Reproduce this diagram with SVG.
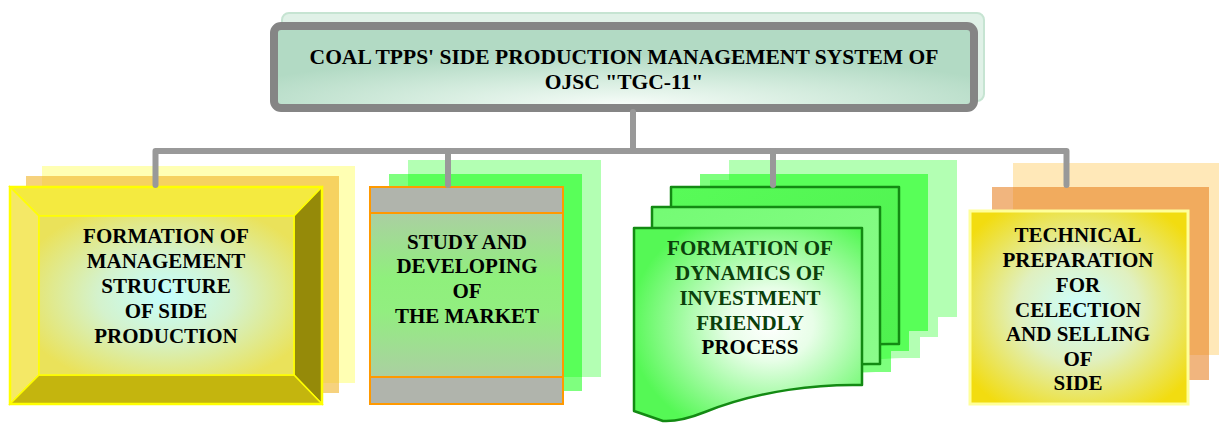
<svg xmlns="http://www.w3.org/2000/svg" xmlns:xlink="http://www.w3.org/1999/xlink" width="1219" height="423" viewBox="0 0 1219 423">
  <style>
    .lbl { font-family: "Liberation Serif", "Times New Roman", serif; font-weight: bold; font-size: 21px; text-anchor: middle; fill: #000; }
    .head { font-size: 21.5px; }
    .lbl-green { fill: #0b400b; }
    .wire { fill: none; stroke: #999999; stroke-width: 6; stroke-linecap: round; stroke-linejoin: round; }
    .bevel { stroke: #ffff00; stroke-width: 1.5; stroke-linejoin: miter; }
    .doc { stroke: #138a13; stroke-width: 2.5; stroke-linejoin: round; }
  </style>
  <defs>
    <radialGradient id="gTop" cx="0.5" cy="0.95" r="0.6">
      <stop offset="0" stop-color="#f6fcf8"/>
      <stop offset="0.5" stop-color="#d4ecde"/>
      <stop offset="1" stop-color="#b2dac4"/>
    </radialGradient>
    <radialGradient id="gBevelInner" cx="0.5" cy="0.5" r="0.6">
      <stop offset="0" stop-color="#c4ffff"/>
      <stop offset="0.45" stop-color="#d4f2cc"/>
      <stop offset="1" stop-color="#eae25a"/>
    </radialGradient>
    <linearGradient id="gMarket" x1="0" y1="0" x2="0" y2="1">
      <stop offset="0" stop-color="#abcfa2"/>
      <stop offset="0.4" stop-color="#8ff07c"/>
      <stop offset="0.6" stop-color="#92ee80"/>
      <stop offset="1" stop-color="#abcfa2"/>
    </linearGradient>
    <radialGradient id="gDoc1" cx="0.6" cy="0.5" r="0.62">
      <stop offset="0" stop-color="#ffffff"/>
      <stop offset="0.3" stop-color="#e8fee8"/>
      <stop offset="1" stop-color="#55f855"/>
    </radialGradient>
    <linearGradient id="gDoc2" x1="0" y1="0" x2="1" y2="1">
      <stop offset="0" stop-color="#74fb74"/>
      <stop offset="1" stop-color="#8efc8e"/>
    </linearGradient>
    <linearGradient id="gDoc3" x1="0" y1="0" x2="1" y2="1">
      <stop offset="0" stop-color="#58fb58"/>
      <stop offset="1" stop-color="#4ef04e"/>
    </linearGradient>
    <radialGradient id="gTech" cx="0.5" cy="0.5" r="0.62">
      <stop offset="0" stop-color="#ccffff"/>
      <stop offset="0.45" stop-color="#e0f0c0"/>
      <stop offset="1" stop-color="#f2dc10"/>
    </radialGradient>
    <!-- page shape with a wavy lower edge -->
    <path id="docShape" d="M0,0 H228 V157 C186,156 126,162 71,184 Q46,194 29,193 L0,183 Z"/>
  </defs>

  <rect width="1219" height="423" fill="#ffffff"/>

  <!-- head block -->
  <g id="node-head">
    <rect x="282" y="13" width="702" height="88" rx="7" fill="#e0f1e7" stroke="#c6e4d2" stroke-width="2"/>
    <rect x="274" y="26" width="700" height="82" rx="7" fill="url(#gTop)" stroke="#858585" stroke-width="8"/>
    <text class="lbl head" x="624" y="64">COAL TPPS' SIDE PRODUCTION MANAGEMENT SYSTEM OF</text>
    <text class="lbl head" x="624" y="89">OJSC "TGC-11"</text>
  </g>

  <!-- bevelled yellow block -->
  <g id="node-structure">
    <rect x="42" y="166" width="313" height="217" fill="#ffffb3"/>
    <rect x="26" y="176" width="313" height="217" fill="#f0b428" fill-opacity="0.6"/>
    <polygon class="bevel" points="10,187 322,187 294,216 39,216" fill="#f4ea40"/>
    <polygon class="bevel" points="10,187 39,216 39,375 10,404" fill="#f4e866"/>
    <polygon class="bevel" points="322,187 322,404 294,375 294,216" fill="#958a09"/>
    <polygon class="bevel" points="10,404 39,375 294,375 322,404" fill="#c4b50e"/>
    <rect x="39" y="216" width="255" height="159" fill="url(#gBevelInner)" stroke="#ffff00" stroke-width="1.5"/>
    <rect x="10" y="187" width="312" height="217" fill="none" stroke="#ffff00" stroke-width="2.5"/>
    <text class="lbl" x="166" y="243">FORMATION OF</text>
    <text class="lbl" x="166" y="268">MANAGEMENT</text>
    <text class="lbl" x="166" y="293">STRUCTURE</text>
    <text class="lbl" x="166" y="318">OF SIDE</text>
    <text class="lbl" x="166" y="343">PRODUCTION</text>
  </g>

  <!-- banded green block -->
  <g id="node-market">
    <rect x="408" y="160" width="193" height="217" fill="#b3ffb3"/>
    <rect x="389" y="174" width="193" height="217" fill="#00ff00" fill-opacity="0.5"/>
    <rect x="370" y="213" width="193" height="164" fill="url(#gMarket)"/>
    <rect x="370" y="187" width="193" height="26" fill="#b0b4ac"/>
    <rect x="370" y="377" width="193" height="27" fill="#b0b4ac"/>
    <g fill="none" stroke="#ff9900" stroke-width="2">
      <rect x="370" y="187" width="193" height="217"/>
      <line x1="370" y1="213" x2="563" y2="213"/>
      <line x1="370" y1="377" x2="563" y2="377"/>
    </g>
    <text class="lbl" x="467" y="249">STUDY AND</text>
    <text class="lbl" x="467" y="273">DEVELOPING</text>
    <text class="lbl" x="467" y="298">OF</text>
    <text class="lbl" x="467" y="323">THE MARKET</text>
  </g>

  <!-- stacked pages -->
  <g id="node-investment">
    <g fill="#b3ffb3">
      <use xlink:href="#docShape" transform="translate(729,160)"/>
      <use xlink:href="#docShape" transform="translate(710,180)"/>
      <use xlink:href="#docShape" transform="translate(692,201)"/>
    </g>
    <g fill="#00ff00" opacity="0.5">
      <use xlink:href="#docShape" transform="translate(700,174)"/>
      <use xlink:href="#docShape" transform="translate(681,194)"/>
      <use xlink:href="#docShape" transform="translate(663,215)"/>
    </g>
    <use class="doc" xlink:href="#docShape" transform="translate(671,187)" fill="url(#gDoc3)"/>
    <use class="doc" xlink:href="#docShape" transform="translate(652,207)" fill="url(#gDoc2)"/>
    <use class="doc" xlink:href="#docShape" transform="translate(634,228)" fill="url(#gDoc1)"/>
    <text class="lbl lbl-green" x="750" y="255">FORMATION OF</text>
    <text class="lbl lbl-green" x="750" y="280">DYNAMICS OF</text>
    <text class="lbl lbl-green" x="750" y="305">INVESTMENT</text>
    <text class="lbl lbl-green" x="750" y="330">FRIENDLY</text>
    <text class="lbl" x="750" y="354">PROCESS</text>
  </g>

  <!-- orange-backed yellow block -->
  <g id="node-technical">
    <rect x="1013" y="163" width="210" height="192" fill="#ffe8b8"/>
    <rect x="992" y="187" width="217" height="193" fill="#e67814" fill-opacity="0.55"/>
    <rect x="970" y="211" width="218" height="193" fill="url(#gTech)" stroke="#ffff99" stroke-width="3"/>
    <text class="lbl" x="1078" y="242">TECHNICAL</text>
    <text class="lbl" x="1078" y="267">PREPARATION</text>
    <text class="lbl" x="1078" y="292">FOR</text>
    <text class="lbl" x="1078" y="317">CELECTION</text>
    <text class="lbl" x="1078" y="341">AND SELLING</text>
    <text class="lbl" x="1078" y="366">OF</text>
    <text class="lbl" x="1078" y="390">SIDE</text>
  </g>

  <!-- tree of connectors -->
  <g id="connectors">
    <path class="wire" d="M633,112 V151"/>
    <path class="wire" d="M155.5,185 V151 H1066.5 V185"/>
    <path class="wire" d="M448,151 V185"/>
    <path class="wire" d="M773,151 V185"/>
  </g>
</svg>
